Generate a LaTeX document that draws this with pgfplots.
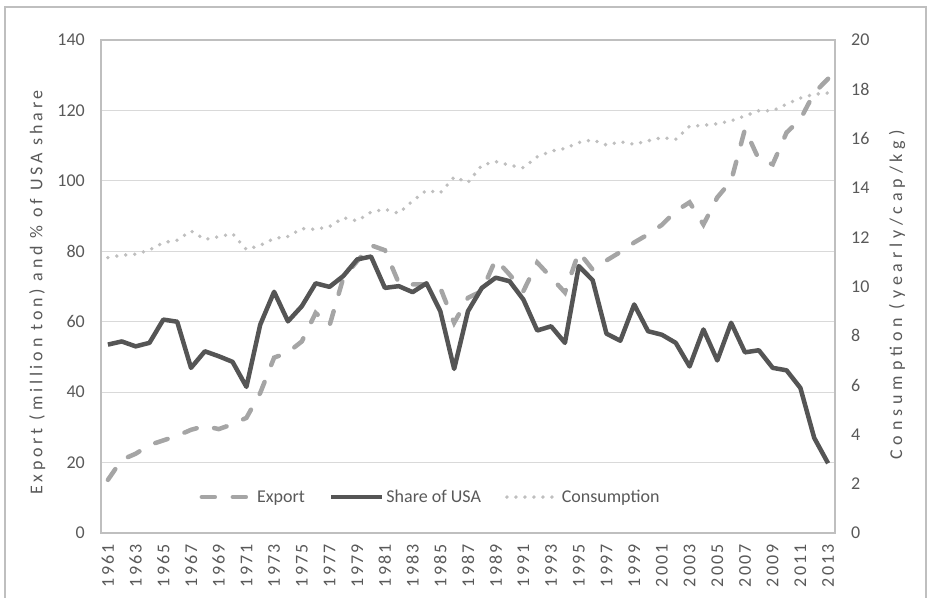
\documentclass[border=0pt]{standalone}
\usepackage{fontspec}
\setmainfont{Carlito}
\newfontfamily\lsA[LetterSpace=21]{Carlito}
\newfontfamily\lsB[LetterSpace=27]{Carlito}
\newfontfamily\lsX[LetterSpace=12]{Carlito}
\usepackage{pgfplots}
\usepackage{pgfplotstable}
\pgfplotsset{compat=1.18}
\definecolor{txt}{HTML}{595959}
\definecolor{shr}{HTML}{555555}
\definecolor{expc}{HTML}{A5A5A5}
\definecolor{conc}{HTML}{BFBFBF}
\definecolor{grd}{HTML}{D9D9D9}
\definecolor{frm}{HTML}{BFBFBF}
\newcommand{\fs}{\fontsize{18}{21}\selectfont}

\pgfplotstableread{
year exp shr con
1961 15.1 53.5 11.17
1962 20.8 54.4 11.27
1963 22.5 53.0 11.31
1964 25.0 54.0 11.48
1965 26.3 60.6 11.78
1966 27.6 60.0 11.88
1967 29.3 46.9 12.25
1968 30.4 51.6 11.91
1969 29.5 50.2 12.02
1970 30.9 48.6 12.14
1971 32.7 41.5 11.50
1972 39.8 59.2 11.67
1973 49.8 68.5 11.95
1974 51.3 60.1 12.03
1975 54.4 64.4 12.35
1976 62.5 70.9 12.32
1977 58.9 69.9 12.43
1978 72.5 73.0 12.79
1979 77.2 77.7 12.66
1980 81.7 78.5 13.02
1981 80.3 69.6 13.13
1982 71.0 70.1 12.97
1983 70.6 68.4 13.47
1984 70.6 70.9 13.90
1985 69.6 63.0 13.80
1986 59.7 46.6 14.44
1987 66.8 63.0 14.22
1988 68.7 69.6 14.92
1989 77.7 72.5 15.07
1990 73.4 71.5 14.92
1991 68.7 66.3 14.82
1992 76.8 57.5 15.26
1993 72.6 58.7 15.49
1994 68.3 54.0 15.60
1995 79.8 75.8 15.84
1996 74.8 71.8 15.95
1997 77.4 56.6 15.74
1998 79.8 54.6 15.87
1999 82.5 64.9 15.77
2000 84.8 57.3 15.91
2001 87.5 56.3 16.04
2002 91.4 54.0 15.97
2003 93.9 47.3 16.50
2004 87.6 57.8 16.54
2005 95.3 49.0 16.60
2006 100.0 59.7 16.72
2007 114.7 51.3 16.92
2008 106.1 51.9 17.13
2009 104.7 46.9 17.13
2010 113.7 46.2 17.40
2011 117.5 41.2 17.64
2012 125.0 27.0 17.80
2013 129.0 19.8 17.85
}\datatable

\pgfplotsset{
  expstyle/.style={expc, line width=4.5pt, line cap=round, dash pattern=on 13pt off 18pt},
  shrstyle/.style={shr, line width=4.5pt, line join=round},
  constyle/.style={conc, line width=3.8pt, line cap=round, dash pattern=on 0pt off 9pt},
  common/.style={
    scale only axis, width=734pt, height=493pt,
    at={(101pt,64pt)}, anchor=south west,
    xmin=1960.5, xmax=2013.5,
    major tick length=0pt,
    tick label style={font=\fs, text=txt},
    /pgf/number format/assume math mode=true,
    /pgf/number format/1000 sep={},
    label style={text=txt},
    legend image code/.code={\draw[##1] (0pt,0pt) -- (51pt,0pt);},
  },
}

\begin{document}
\begin{tikzpicture}[x=1pt,y=1pt]
\path[use as bounding box] (0,0) rectangle (928,597);
\draw[frm, line width=1.3pt] (5,-10) -- (5,590) -- (926,590) -- (926,-10);
\begin{axis}[common,
  ymin=0, ymax=140, ytick={0,20,...,140},
  xtick={1961,1963,...,2013},
  ymajorgrids, grid style={grd, line width=1.2pt},
  axis line style={frm, line width=1.3pt},
  xticklabel style={rotate=90, anchor=east, inner sep=0pt, font=\lsX\fs},
  xticklabel shift=11pt,
  yticklabel style={anchor=east, inner sep=0pt, xshift=-16pt},
  ylabel={Export (million ton) and \% of USA share},
  ylabel style={at={(axis description cs:-0.087,0.488)}, anchor=center, font=\lsA\fs},
]
\addplot[expstyle] table[x=year, y=exp] {\datatable};
\addplot[shrstyle] table[x=year, y=shr] {\datatable};
\end{axis}
\begin{axis}[common,
  ymin=0, ymax=20, ytick={0,2,...,20},
  axis x line=none, axis y line*=right,
  axis line style={draw=none},
  yticklabel style={anchor=west, inner sep=0pt, xshift=16pt},
  ylabel={Consumption (yearly/cap/kg)},
  ylabel style={at={(axis description cs:1.0845,0.483)}, anchor=center, font=\lsB\fs},
  legend columns=3,
  legend style={at={(axis description cs:0.449,0.073)}, anchor=center, draw=none, fill=none,
    font=\fs, text=txt,
    /tikz/every even column/.append style={column sep=22pt}},
]
\addlegendimage{expstyle}\addlegendentry{Export}
\addlegendimage{shrstyle}\addlegendentry{Share of USA}
\addplot[constyle] table[x=year, y=con] {\datatable};
\addlegendentry{Consumption}
\end{axis}
\end{tikzpicture}
\end{document}
